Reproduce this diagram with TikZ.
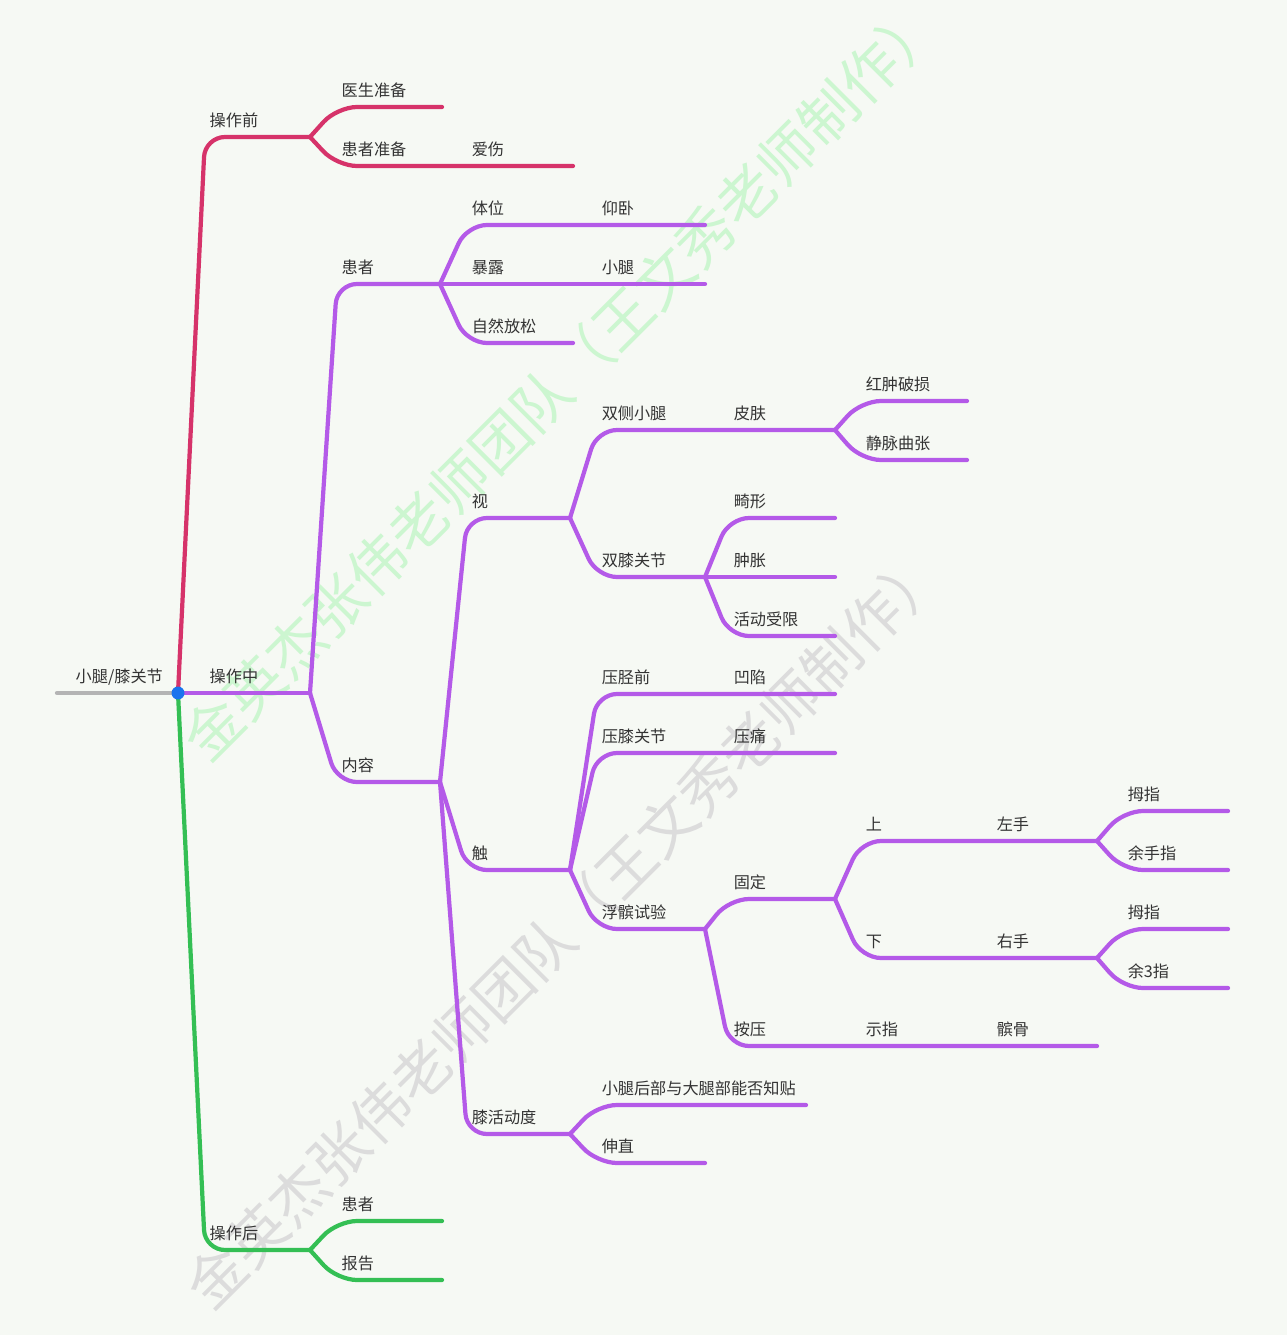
\documentclass[tikz,border=0pt]{standalone}
\usepackage{fontspec}
\newfontfamily\cjk{Noto Sans CJK SC}
\usepackage{tikz}
\usetikzlibrary{calc}
\usepackage{xcolor}
\definecolor{bgPaper}{HTML}{F6F9F4}
\definecolor{preRed}{HTML}{D6336A}
\definecolor{midPurple}{HTML}{B45AE8}
\definecolor{postGreen}{HTML}{34BF54}
\definecolor{rootGray}{HTML}{B4B4B4}
\definecolor{dotBlue}{HTML}{1A73EE}
\definecolor{wmGreen}{HTML}{CCF6D0}
\definecolor{wmGray}{HTML}{DCDCDC}
\definecolor{txt}{HTML}{333333}

\begin{document}
\begin{tikzpicture}[x=0.02cm, y=-0.02cm,
  br/.style={line width=2.4pt, line cap=round, line join=round, rounded corners=0.4cm},
  preline/.style={br, draw=preRed},
  midline/.style={br, draw=midPurple},
  postline/.style={br, draw=postGreen},
  lbl/.style={font=\cjk\fontsize{9.2}{11}\selectfont, text=txt, anchor=base west, inner sep=0pt, xshift=2.5pt, yshift=6pt},
  wm/.style={font=\cjk\fontsize{33}{36}\selectfont, rotate=45, inner sep=0pt}]

  \useasboundingbox (0,0) rectangle (1287,1335);
  \fill[bgPaper] (0,0) rectangle (1287,1335);

  % watermark
  \node[wm, text=wmGreen] (wm-a) at (562,380) {金英杰张伟老师团队（王文秀老师制作）};
  \node[wm, text=wmGray] (wm-b) at (565,928) {金英杰张伟老师团队（王文秀老师制作）};

  % root
  \coordinate (root-w) at (57,693);
  \coordinate (root) at (178,693);
  \node[lbl] (t-root) at (71,693) {小腿/膝关节};
  \draw[br, draw=rootGray] (root-w) -- (root);

  % before
  \coordinate (qian) at (205,137);      \coordinate (qian-e) at (310,137);
  \coordinate (yisheng) at (337,107);   \coordinate (yisheng-e) at (442,107);
  \coordinate (hzzb) at (337,166);
  \coordinate (aishang) at (467,166);   \coordinate (aishang-e) at (573,166);
  \node[lbl] (t-qian) at (qian) {操作前};
  \node[lbl] (t-yisheng) at (yisheng) {医生准备};
  \node[lbl] (t-hzzb) at (hzzb) {患者准备};
  \node[lbl] (t-aishang) at (aishang) {爱伤};
  \draw[preline] (root) -- (qian) -- (qian-e);
  \draw[preline] (qian-e) -- (yisheng) -- (yisheng-e);
  \draw[preline] (qian-e) -- (hzzb) -- (aishang-e);

  % during
  \coordinate (zhong) at (205,693);     \coordinate (zhong-e) at (310,693);
  \node[lbl] (t-zhong) at (zhong) {操作中};
  \draw[midline] (root) -- (zhong-e);

  % during / patient
  \coordinate (huanzhe) at (337,284);   \coordinate (huanzhe-e) at (440,284);
  \coordinate (tiwei) at (467,225);     \coordinate (tiwei-e) at (570,225);
  \coordinate (yangwo) at (597,225);    \coordinate (yangwo-e) at (705,225);
  \coordinate (baolu) at (467,284);     \coordinate (baolu-e) at (570,284);
  \coordinate (xiaotui) at (597,284);   \coordinate (xiaotui-e) at (705,284);
  \coordinate (ziran) at (467,343);     \coordinate (ziran-e) at (573,343);
  \node[lbl] (t-huanzhe) at (huanzhe) {患者};
  \node[lbl] (t-tiwei) at (tiwei) {体位};
  \node[lbl] (t-yangwo) at (yangwo) {仰卧};
  \node[lbl] (t-baolu) at (baolu) {暴露};
  \node[lbl] (t-xiaotui) at (xiaotui) {小腿};
  \node[lbl] (t-ziran) at (ziran) {自然放松};
  \draw[midline] (zhong-e) -- (huanzhe) -- (huanzhe-e);
  \draw[midline] (huanzhe-e) -- (tiwei) -- (yangwo-e);
  \draw[midline] (huanzhe-e) -- (xiaotui-e);
  \draw[midline] (huanzhe-e) -- (ziran) -- (ziran-e);

  % during / content
  \coordinate (neirong) at (337,782);   \coordinate (neirong-e) at (440,782);
  \node[lbl] (t-neirong) at (neirong) {内容};
  \draw[midline] (zhong-e) -- (neirong) -- (neirong-e);

  % look
  \coordinate (shi) at (467,518);       \coordinate (shi-e) at (570,518);
  \coordinate (scxt) at (597,430);
  \coordinate (pifu) at (729,430);      \coordinate (pifu-e) at (835,430);
  \coordinate (hzps) at (861,401);      \coordinate (hzps-e) at (967,401);
  \coordinate (jmqz) at (861,460);      \coordinate (jmqz-e) at (967,460);
  \coordinate (sxgj) at (597,577);      \coordinate (sxgj-e) at (705,577);
  \coordinate (jixing) at (729,518);    \coordinate (jixing-e) at (835,518);
  \coordinate (zhzh) at (729,577);      \coordinate (zhzh-e) at (835,577);
  \coordinate (hdsx) at (729,636);      \coordinate (hdsx-e) at (835,636);
  \node[lbl] (t-shi) at (shi) {视};
  \node[lbl] (t-scxt) at (scxt) {双侧小腿};
  \node[lbl] (t-pifu) at (pifu) {皮肤};
  \node[lbl] (t-hzps) at (hzps) {红肿破损};
  \node[lbl] (t-jmqz) at (jmqz) {静脉曲张};
  \node[lbl] (t-sxgj) at (sxgj) {双膝关节};
  \node[lbl] (t-jixing) at (jixing) {畸形};
  \node[lbl] (t-zhzh) at (zhzh) {肿胀};
  \node[lbl] (t-hdsx) at (hdsx) {活动受限};
  \draw[midline] (neirong-e) -- (shi) -- (shi-e);
  \draw[midline] (shi-e) -- (scxt) -- (pifu-e);
  \draw[midline] (pifu-e) -- (hzps) -- (hzps-e);
  \draw[midline] (pifu-e) -- (jmqz) -- (jmqz-e);
  \draw[midline] (shi-e) -- (sxgj) -- (sxgj-e);
  \draw[midline] (sxgj-e) -- (jixing) -- (jixing-e);
  \draw[midline] (sxgj-e) -- (zhzh-e);
  \draw[midline] (sxgj-e) -- (hdsx) -- (hdsx-e);

  % touch
  \coordinate (chu) at (467,870);       \coordinate (chu-e) at (570,870);
  \coordinate (yajq) at (597,694);
  \coordinate (aoxian) at (729,694);    \coordinate (aoxian-e) at (835,694);
  \coordinate (yaxgj) at (597,753);
  \coordinate (yatong) at (729,753);    \coordinate (yatong-e) at (835,753);
  \coordinate (fbsy) at (597,929);      \coordinate (fbsy-e) at (705,929);
  \coordinate (guding) at (729,899);    \coordinate (guding-e) at (835,899);
  \coordinate (shang) at (861,841);
  \coordinate (zuoshou) at (992,841);   \coordinate (zuoshou-e) at (1097,841);
  \coordinate (muzhi-a) at (1123,811);  \coordinate (muzhi-a-e) at (1228,811);
  \coordinate (yushou) at (1123,870);   \coordinate (yushou-e) at (1228,870);
  \coordinate (xia) at (861,958);
  \coordinate (youshou) at (992,958);   \coordinate (youshou-e) at (1097,958);
  \coordinate (muzhi-b) at (1123,929);  \coordinate (muzhi-b-e) at (1228,929);
  \coordinate (yusan) at (1123,988);    \coordinate (yusan-e) at (1228,988);
  \coordinate (anya) at (729,1046);
  \coordinate (shizhi) at (861,1046);
  \coordinate (binggu) at (992,1046);   \coordinate (binggu-e) at (1097,1046);
  \node[lbl] (t-chu) at (chu) {触};
  \node[lbl] (t-yajq) at (yajq) {压胫前};
  \node[lbl] (t-aoxian) at (aoxian) {凹陷};
  \node[lbl] (t-yaxgj) at (yaxgj) {压膝关节};
  \node[lbl] (t-yatong) at (yatong) {压痛};
  \node[lbl] (t-fbsy) at (fbsy) {浮髌试验};
  \node[lbl] (t-guding) at (guding) {固定};
  \node[lbl] (t-shang) at (shang) {上};
  \node[lbl] (t-zuoshou) at (zuoshou) {左手};
  \node[lbl] (t-muzhi-a) at (muzhi-a) {拇指};
  \node[lbl] (t-yushou) at (yushou) {余手指};
  \node[lbl] (t-xia) at (xia) {下};
  \node[lbl] (t-youshou) at (youshou) {右手};
  \node[lbl] (t-muzhi-b) at (muzhi-b) {拇指};
  \node[lbl] (t-yusan) at (yusan) {余3指};
  \node[lbl] (t-anya) at (anya) {按压};
  \node[lbl] (t-shizhi) at (shizhi) {示指};
  \node[lbl] (t-binggu) at (binggu) {髌骨};
  \draw[midline] (neirong-e) -- (chu) -- (chu-e);
  \draw[midline] (chu-e) -- (yajq) -- (aoxian-e);
  \draw[midline] (chu-e) -- (yaxgj) -- (yatong-e);
  \draw[midline] (chu-e) -- (fbsy) -- (fbsy-e);
  \draw[midline] (fbsy-e) -- (guding) -- (guding-e);
  \draw[midline] (guding-e) -- (shang) -- (zuoshou-e);
  \draw[midline] (zuoshou-e) -- (muzhi-a) -- (muzhi-a-e);
  \draw[midline] (zuoshou-e) -- (yushou) -- (yushou-e);
  \draw[midline] (guding-e) -- (xia) -- (youshou-e);
  \draw[midline] (youshou-e) -- (muzhi-b) -- (muzhi-b-e);
  \draw[midline] (youshou-e) -- (yusan) -- (yusan-e);
  \draw[midline] (fbsy-e) -- (anya) -- (binggu-e);

  % range of motion
  \coordinate (xhdd) at (467,1134);     \coordinate (xhdd-e) at (570,1134);
  \coordinate (xthb) at (597,1105);     \coordinate (xthb-e) at (806,1105);
  \coordinate (shenzhi) at (597,1163);  \coordinate (shenzhi-e) at (705,1163);
  \node[lbl] (t-xhdd) at (xhdd) {膝活动度};
  \node[lbl] (t-xthb) at (xthb) {小腿后部与大腿部能否知贴};
  \node[lbl] (t-shenzhi) at (shenzhi) {伸直};
  \draw[midline] (neirong-e) -- (xhdd) -- (xhdd-e);
  \draw[midline] (xhdd-e) -- (xthb) -- (xthb-e);
  \draw[midline] (xhdd-e) -- (shenzhi) -- (shenzhi-e);

  % after
  \coordinate (hou) at (205,1250);      \coordinate (hou-e) at (310,1250);
  \coordinate (hz-b) at (337,1221);     \coordinate (hz-b-e) at (442,1221);
  \coordinate (baogao) at (337,1280);   \coordinate (baogao-e) at (442,1280);
  \node[lbl] (t-hou) at (hou) {操作后};
  \node[lbl] (t-hz-b) at (hz-b) {患者};
  \node[lbl] (t-baogao) at (baogao) {报告};
  \draw[postline] (root) -- (hou) -- (hou-e);
  \draw[postline] (hou-e) -- (hz-b) -- (hz-b-e);
  \draw[postline] (hou-e) -- (baogao) -- (baogao-e);

  % hub dot
  \node[circle, fill=dotBlue, inner sep=0pt, minimum size=0.26cm] (hub) at (root) {};
\end{tikzpicture}
\end{document}
